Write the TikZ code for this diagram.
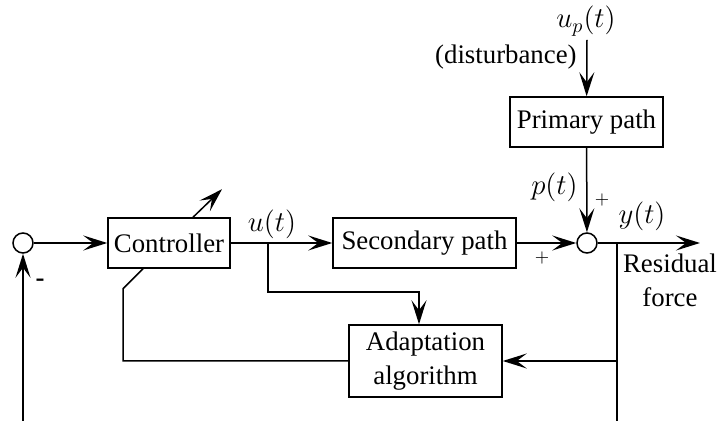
\documentclass[tikz,border=0pt]{standalone}
\usepackage{fix-cm}
\usepackage{fontspec}
\setmainfont{Liberation Serif}
\usetikzlibrary{arrows.meta,positioning,calc}

\begin{document}
\begin{tikzpicture}[x=0.5pt,y=-0.5pt,
  line width=0.75pt,
  font=\fontsize{13.4}{17}\selectfont,
  blk/.style={draw, minimum height=25pt, align=center, inner sep=2pt},
  sum/.style={draw, circle, minimum size=10pt, inner sep=0pt},
  a/.style={-{Stealth[length=12pt,width=7.5pt,inset=5pt]}},
  sig/.style={font=\fontsize{14.4}{17}\selectfont},
  sgn/.style={font=\fontsize{9}{10}\selectfont}
]
\useasboundingbox (0,0) rectangle (719,421);

\node[sum] (s1) at (23,243) {};
\node[blk, minimum width=61pt] (ctrl) at (169,243) {Controller};
\node[blk, minimum width=91.5pt] (sec) at (424.5,243) {Secondary path};
\node[blk, minimum width=76.5pt] (pri) at (586.5,122) {Primary path};
\node[sum] (s2) at (587,243) {};
\node[blk, minimum width=76.5pt, minimum height=36pt] (adapt) at (425.5,361) {Adaptation\\algorithm};

\coordinate (in) at (23,421);
\coordinate (br1) at (268,243);
\coordinate (k1) at (419,292);
\coordinate (up) at (587,40);
\coordinate (out) at (700,243);
\coordinate (br2) at (617,243);
\coordinate (bot) at (617,421);

% labels
\node[sig] (lu) at (272,224) {$u(t)$};
\node[sig] (lup) at (586,21) {$u_p(t)$};
\node[anchor=east] (ldist) at (584,57) {(disturbance)};
\node[sig, anchor=east] (lp) at (585,187) {$p(t)$};
\node[sig] (ly) at (642,216) {$y(t)$};
\node[align=center] (lres) at (670,280) {Residual\\force};
\node[sgn] (pl1) at (602,200) {$+$};
\node[sgn] (pl2) at (542,258) {$+$};
\node (mi) at (40,283) {\textbf{-}};

% connectors
\draw[a] (s1) -- (ctrl);
\draw[a] (ctrl) -- (sec);
\draw[a] ([xshift=12pt]ctrl.north) -- ++(29,-28);
\draw[a] (br1) |- (k1) -- (k1 |- adapt.north);
\draw ([xshift=-13pt]ctrl.south) -- ++(-20,20) |- (adapt.west);
\draw[a] (in) -- (s1);
\draw[a] (sec) -- (s2);
\draw[a] (up) -- (pri);
\draw[a] (pri) -- (s2);
\draw[a] (s2) -- (out);
\draw (br2) -- (bot);
\draw[a] (br2 |- adapt.east) -- (adapt.east);
\end{tikzpicture}
\end{document}
